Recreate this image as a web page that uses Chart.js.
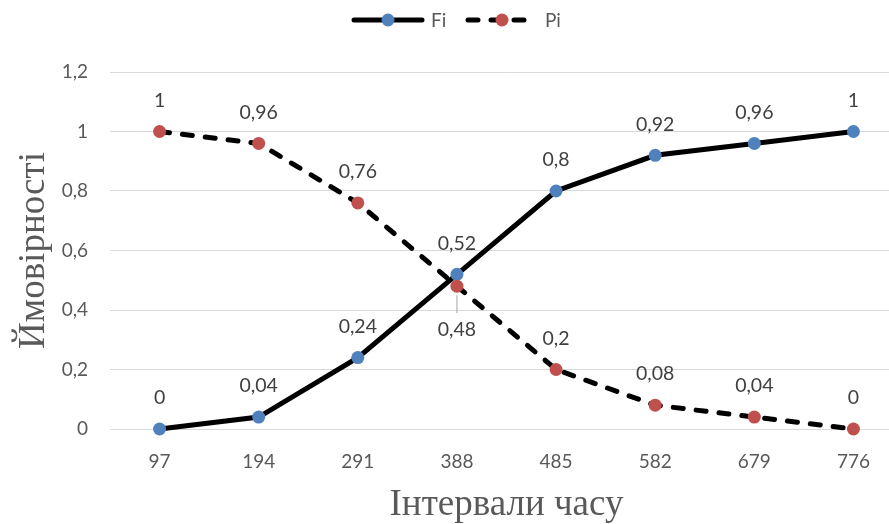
<!DOCTYPE html>
<html>
<head>
<meta charset="utf-8">
<script src="https://cdn.jsdelivr.net/npm/chart.js@4/dist/chart.umd.min.js"></script>
<style>
  html, body { margin: 0; padding: 0; background: #fff; overflow: hidden; }
  canvas { display: block; }
</style>
</head>
<body>
<canvas id="chart" width="903" height="524"></canvas>
<script>
const intervals = ['97', '194', '291', '388', '485', '582', '679', '776'];
const fiValues = [0, 0.04, 0.24, 0.52, 0.8, 0.92, 0.96, 1];
const piValues = [1, 0.96, 0.76, 0.48, 0.2, 0.08, 0.04, 0];
const yTicks = [0, 0.2, 0.4, 0.6, 0.8, 1, 1.2];

const BLUE = '#4f81bd';
const RED = '#c0504d';
const GREY_TEXT = '#595959';
const LABEL_TEXT = '#404040';
const PI_DASH = [10, 13];

const fmt = (v) => String(Number(v.toFixed(2))).replace('.', ',');

// labels that sit under their point (with a leader line) instead of above
const labelsBelow = [{ dataset: 1, index: 3 }];

const dataLabels = {
  id: 'dataLabels',
  afterDatasetsDraw(chart) {
    const ctx = chart.ctx;
    ctx.save();
    ctx.font = '19.5px Lato';
    ctx.fillStyle = LABEL_TEXT;
    ctx.textAlign = 'center';
    ctx.textBaseline = 'middle';
    chart.data.datasets.forEach((ds, di) => {
      const meta = chart.getDatasetMeta(di);
      meta.data.forEach((pt, i) => {
        const below = labelsBelow.some((b) => b.dataset === di && b.index === i);
        if (below) {
          ctx.strokeStyle = '#a6a6a6';
          ctx.lineWidth = 1;
          ctx.beginPath();
          ctx.moveTo(pt.x, pt.y + 9);
          ctx.lineTo(pt.x, pt.y + 27);
          ctx.stroke();
          ctx.fillText(fmt(ds.data[i]), pt.x, pt.y + 44);
        } else {
          ctx.fillText(fmt(ds.data[i]), pt.x, pt.y - 31);
        }
      });
    });
    ctx.restore();
  }
};

const lineLegend = {
  id: 'lineLegend',
  afterDraw(chart) {
    const ctx = chart.ctx;
    const y = 20;
    const items = [
      { x: 352, text: 'Fi', color: BLUE, dash: [] },
      { x: 466, text: 'Pi', color: RED, dash: PI_DASH }
    ];
    ctx.save();
    items.forEach((it) => {
      ctx.strokeStyle = '#000';
      ctx.lineWidth = 5;
      ctx.lineCap = 'round';
      ctx.setLineDash(it.dash);
      ctx.beginPath();
      ctx.moveTo(it.x + 2, y);
      ctx.lineTo(it.x + 70, y);
      ctx.stroke();
      ctx.setLineDash([]);
      ctx.fillStyle = it.color;
      ctx.beginPath();
      ctx.arc(it.x + 36, y, 6.5, 0, Math.PI * 2);
      ctx.fill();
      ctx.fillStyle = GREY_TEXT;
      ctx.font = '19px Lato';
      ctx.textAlign = 'left';
      ctx.textBaseline = 'middle';
      ctx.fillText(it.text, it.x + 79, y + 1);
    });
    ctx.restore();
  }
};

new Chart(document.getElementById('chart'), {
  type: 'line',
  data: {
    labels: intervals,
    datasets: [
      {
        label: 'Fi',
        data: fiValues,
        borderColor: '#000',
        borderWidth: 5,
        pointBackgroundColor: BLUE,
        pointBorderColor: BLUE,
        pointRadius: 6.5,
        pointBorderWidth: 0,
        tension: 0,
        clip: false,
        order: 1
      },
      {
        label: 'Pi',
        data: piValues,
        borderColor: '#000',
        borderWidth: 5,
        borderDash: PI_DASH,
        borderCapStyle: 'round',
        pointBackgroundColor: RED,
        pointBorderColor: RED,
        pointRadius: 6.5,
        pointBorderWidth: 0,
        tension: 0,
        clip: false,
        order: 0
      }
    ]
  },
  options: {
    responsive: false,
    animation: false,
    layout: { autoPadding: false, padding: { top: 72, left: 0, right: 0, bottom: 0 } },
    plugins: {
      legend: { display: false },
      tooltip: { enabled: false }
    },
    scales: {
      x: {
        type: 'category',
        offset: true,
        grid: { display: false, drawTicks: false },
        border: { display: false },
        ticks: { color: GREY_TEXT, font: { family: 'Lato', size: 19 }, padding: 21 },
        title: {
          display: true,
          text: 'Інтервали часу',
          color: GREY_TEXT,
          font: { family: 'Liberation Serif', size: 37, lineHeight: 1 },
          padding: { top: 0, bottom: 0 }
        },
        afterFit: (scale) => { scale.height = 95; }
      },
      y: {
        min: 0,
        max: 1.2,
        afterBuildTicks: (scale) => { scale.ticks = yTicks.map((v) => ({ value: v })); },
        grid: { color: '#d9d9d9', lineWidth: 1, drawTicks: false },
        border: { display: false },
        ticks: {
          color: GREY_TEXT,
          font: { family: 'Lato', size: 19 },
          padding: 22,
          callback: (v) => fmt(v)
        },
        title: {
          display: true,
          text: 'Ймовірності',
          color: GREY_TEXT,
          font: { family: 'Liberation Serif', size: 37, lineHeight: 1 },
          padding: { top: 16, bottom: 0 }
        },
        afterFit: (scale) => { scale.width = 110; }
      }
    }
  },
  plugins: [dataLabels, lineLegend]
});
</script>
</body>
</html>
